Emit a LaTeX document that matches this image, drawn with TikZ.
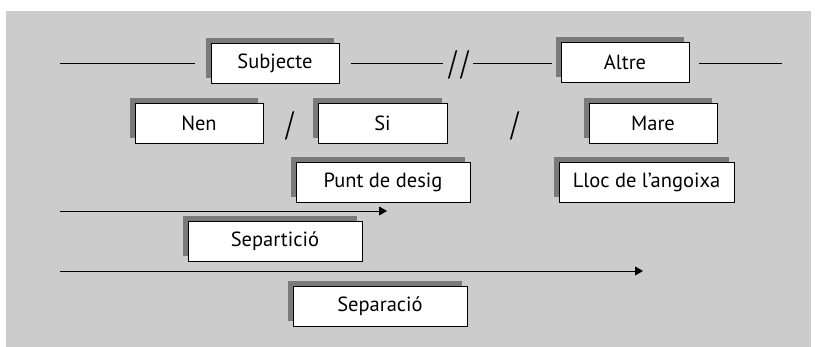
\documentclass[tikz,border=0pt]{standalone}
\usepackage{fontspec}
\setmainfont{PT Sans}
\newfontfamily\slfont{Lato}
\usetikzlibrary{shadows,arrows.meta}
\definecolor{bgc}{HTML}{CCCCCC}
\definecolor{shc}{HTML}{7A7A7A}
\tikzset{
  bx/.style={draw=black, line width=0.9pt, fill=white, inner sep=0pt,
    minimum height=40pt, font=\fontsize{20.5}{24}\selectfont,
    general shadow={fill=shc, shadow xshift=-5pt, shadow yshift=5pt}},
  ln/.style={line width=0.9pt},
  ar/.style={line width=0.9pt, -{Triangle[length=8pt,width=9pt]}},
  sl/.style={inner sep=0pt, font=\slfont\fontsize{26}{30}\selectfont}
}
\newcommand{\tallsl}[1]{\scalebox{0.95}[1.4]{#1}}
\begin{document}
\begin{tikzpicture}[x=1pt,y=-1pt]
\useasboundingbox (0,0) rectangle (820,347);
\fill[white] (0,0) rectangle (820,347);
\fill[bgc] (6,11) rectangle (811,347);
% boxes
\node[bx, minimum width=128pt] (subj) at (275,63.5) {Subjecte};
\node[bx, minimum width=128pt] (altre) at (625,62.5) {Altre};
\node[bx, minimum width=128pt] (nen) at (199,123) {Nen};
\node[bx, minimum width=129pt] (si) at (382.5,123) {Si};
\node[bx, minimum width=128pt] (mare) at (653,123) {Mare};
\node[bx, minimum width=174pt] (punt) at (383,182.5) {Punt de desig};
\node[bx, minimum width=175pt] (lloc) at (646.5,182.5) {Lloc de l’angoixa};
\node[bx, minimum width=174pt] (sept) at (275,241.5) {Separtició};
\node[bx, minimum width=174pt] (sepa) at (380,306.5) {Separació};
% slashes
\node[sl] (dsl) at (459,65) {\tallsl{/\kern1.5pt/}};
\node[sl] (s1) at (290,126) {\tallsl{/}};
\node[sl] (s2) at (515,126) {\tallsl{/}};
% top line
\coordinate (l0) at (60,63);
\coordinate (l1) at (195,63);
\coordinate (l2) at (351,63);
\coordinate (l3) at (443,63);
\coordinate (l4) at (473,63);
\coordinate (l5) at (552,63);
\coordinate (l6) at (699,63);
\coordinate (l7) at (782,63);
\draw[ln] (l0) -- (l1);
\draw[ln] (l2) -- (l3);
\draw[ln] (l4) -- (l5);
\draw[ln] (l6) -- (l7);
% arrows
\coordinate (a0) at (60,211);
\coordinate (a1) at (387,211);
\coordinate (b0) at (60,271);
\coordinate (b1) at (643,271);
\draw[ar] (a0) -- (a1);
\draw[ar] (b0) -- (b1);
\end{tikzpicture}
\end{document}
